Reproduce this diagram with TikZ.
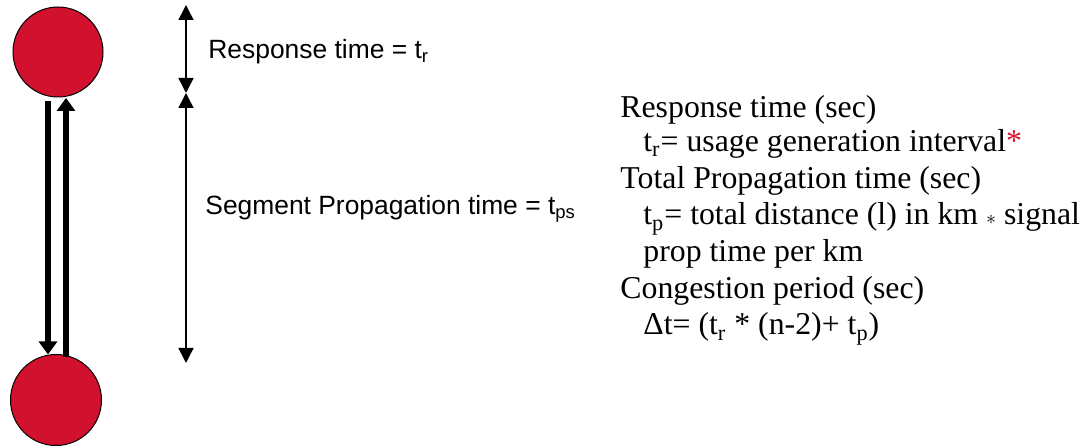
\documentclass[tikz,border=0pt]{standalone}
\usepackage{fontspec}
\setmainfont{Liberation Serif}
\setsansfont{Liberation Sans}
\usepackage{tikz}
\usetikzlibrary{arrows.meta,calc}
\definecolor{tmred}{HTML}{D2112E}

\begin{document}
\begin{tikzpicture}[x=0.5pt,y=-0.5pt,
 endnode/.style={circle,draw=black,line width=0.5pt,fill=tmred,inner sep=0pt,minimum size=45pt},
 msgarrow/.style={-{Triangle[length=6.5pt,width=9pt]},line width=3pt},
 dimarrow/.style={{Triangle[length=7.5pt,width=7.5pt]}-{Triangle[length=7.5pt,width=7.5pt]},line width=0.75pt},
 dimlabel/.style={anchor=base west,inner sep=0pt,font=\sffamily\fontsize{13.2}{15}\selectfont},
 noteline/.style={anchor=base west,inner sep=0pt,font=\rmfamily\fontsize{15.9}{18.2}\selectfont}
]
\useasboundingbox (0,0) rectangle (1087,448);
\node[endnode] (top) at (58,52) {};
\node[endnode,minimum size=45.5pt] (bottom) at (56,400) {};
\draw[msgarrow] ($(top.south)+(-10,4)$) -- ($(bottom.north)+(-8,0.5)$);
\draw[msgarrow] ($(bottom.north)+(10,3)$) -- ($(top.south)+(8,0.5)$);
\coordinate (dimtop) at (186,5);
\coordinate (dimmid) at (186,93);
\coordinate (dimbot) at (186,363);
\draw[dimarrow] (dimtop) -- (dimmid);
\draw[dimarrow] (dimmid) -- (dimbot);
\node[dimlabel] (resplabel) at (208,59) {Response time = t\textsubscript{r}};
\node[dimlabel] (seglabel) at (205,215) {Segment Propagation time = t\textsubscript{ps}};
\node[noteline] (resphead) at (620,117.3) {Response time (sec)};
\node[noteline] (respeq) at (643,151.7) {t\textsubscript{r}= usage generation interval\textcolor{tmred}{*}};
\node[noteline] (prophead) at (620,188.3) {Total Propagation time (sec)};
\node[noteline] (propeq) at (643,225) {t\textsubscript{p}= total distance (l) in km {\normalsize$\ast$} signal};
\node[noteline] (propeqb) at (643,261.7) {prop time per km};
\node[noteline] (conghead) at (620,298.3) {Congestion period (sec)};
\node[noteline] (congeq) at (643,335) {Δt= (t\textsubscript{r} * (n-2)+ t\textsubscript{p})};
\end{tikzpicture}
\end{document}
